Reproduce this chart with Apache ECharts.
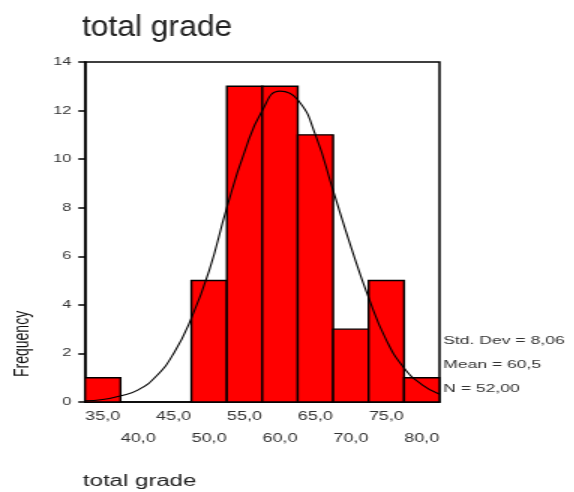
<!DOCTYPE html>
<html>
<head>
<meta charset="utf-8">
<script src="https://cdn.jsdelivr.net/npm/echarts@6/dist/echarts.min.js"></script>
<style>
  html, body { margin: 0; padding: 0; background: #fff; overflow: hidden; }
  /* the original SPSS picture is stretched sideways, so draw narrow and widen it */
  #main { width: 383px; height: 492px; transform: scaleX(1.5); transform-origin: 0 0; }
</style>
</head>
<body>
<div id="main"></div>
<script>
// histogram bins (centre of each 5-point bin) and counts
var binLabels = ['35,0', '40,0', '45,0', '50,0', '55,0', '60,0', '65,0', '70,0', '75,0', '80,0'];
var binCenters = [35, 40, 45, 50, 55, 60, 65, 70, 75, 80];
var counts = [1, 0, 0, 5, 13, 13, 11, 3, 5, 1];
var binWidth = 5;

// fitted normal curve
var curveX = [32.5, 35, 37.5, 40, 42.5, 45, 47.5, 50, 52.5, 55, 57.5, 60, 62.5, 65, 67.5, 70, 72.5, 75, 77.5, 80, 82.5];
var curveY = [0.05, 0.1, 0.25, 0.5, 1.05, 2.0, 3.45, 5.4, 8.0, 10.3, 12.0, 12.8, 12.45, 11.0, 8.7, 6.4, 4.3, 2.55, 1.4, 0.72, 0.32];

var statsLines = ['Std. Dev = 8,06', 'Mean = 60,5', 'N = 52,00'];

var font = 'Liberation Sans, Arial, sans-serif';

var chart = echarts.init(document.getElementById('main'));

var barData = binCenters.map(function (c, i) { return [c, counts[i]]; });
var curveData = curveX.map(function (x, i) { return [x, curveY[i]]; });

var option = {
  backgroundColor: '#fff',
  animation: false,
  grid: {
    left: 56.7, top: 62, right: 90, bottom: 90,
    show: true, borderColor: '#000', borderWidth: 1.5, backgroundColor: 'transparent'
  },
  xAxis: [{
    type: 'category',
    data: binLabels,
    boundaryGap: true,
    axisLine: { lineStyle: { color: '#000', width: 1.5 } },
    axisTick: { show: false },
    axisLabel: {
      interval: 0,
      margin: 4,
      fontFamily: font,
      fontSize: 12,
      color: '#333',
      lineHeight: 22,
      formatter: function (v, i) { return i % 2 === 0 ? v : '\n' + v; }
    }
  }, {
    type: 'value',
    min: 32.5,
    max: 82.5,
    show: false
  }],
  yAxis: {
    type: 'value',
    min: 0,
    max: 14,
    interval: 2,
    splitLine: { show: false },
    axisLine: { show: true, lineStyle: { color: '#000', width: 1.5 } },
    axisTick: { show: true, length: 4.5, lineStyle: { color: '#000', width: 1.5 } },
    axisLabel: { margin: 9, fontFamily: font, fontSize: 11, color: '#333' }
  },
  series: [{
    type: 'custom',
    xAxisIndex: 1,
    data: barData,
    renderItem: function (params, api) {
      var c = api.value(0), v = api.value(1);
      if (!v) return null;
      var p0 = api.coord([c - binWidth / 2, v]);
      var p1 = api.coord([c + binWidth / 2, 0]);
      return {
        type: 'rect',
        shape: { x: p0[0], y: p0[1], width: p1[0] - p0[0], height: p1[1] - p0[1] },
        style: { fill: '#ff0000', stroke: '#000', lineWidth: 1.4 }
      };
    }
  }, {
    type: 'line',
    data: curveData,
    xAxisIndex: 1,
    smooth: true,
    symbol: 'none',
    lineStyle: { color: '#000', width: 1.1 },
    z: 5
  }],
  graphic: [{
    type: 'text',
    x: 54.7,
    y: 13,
    scaleX: 0.73,
    style: { text: 'total grade', font: '29px ' + font, fill: '#222' }
  }, {
    type: 'text',
    x: 295.5,
    y: 329,
    style: { text: statsLines.join('\n'), font: '11.7px ' + font, fill: '#333', lineHeight: 24 }
  }, {
    type: 'text',
    x: 8,
    y: 377,
    rotation: Math.PI / 2,
    style: { text: 'Frequency', font: '14px ' + font, fill: '#111' }
  }, {
    type: 'text',
    x: 55.3,
    y: 474,
    style: { text: 'total grade', font: '16px ' + font, fill: '#222' }
  }]
};

chart.setOption(option);
</script>
</body>
</html>
